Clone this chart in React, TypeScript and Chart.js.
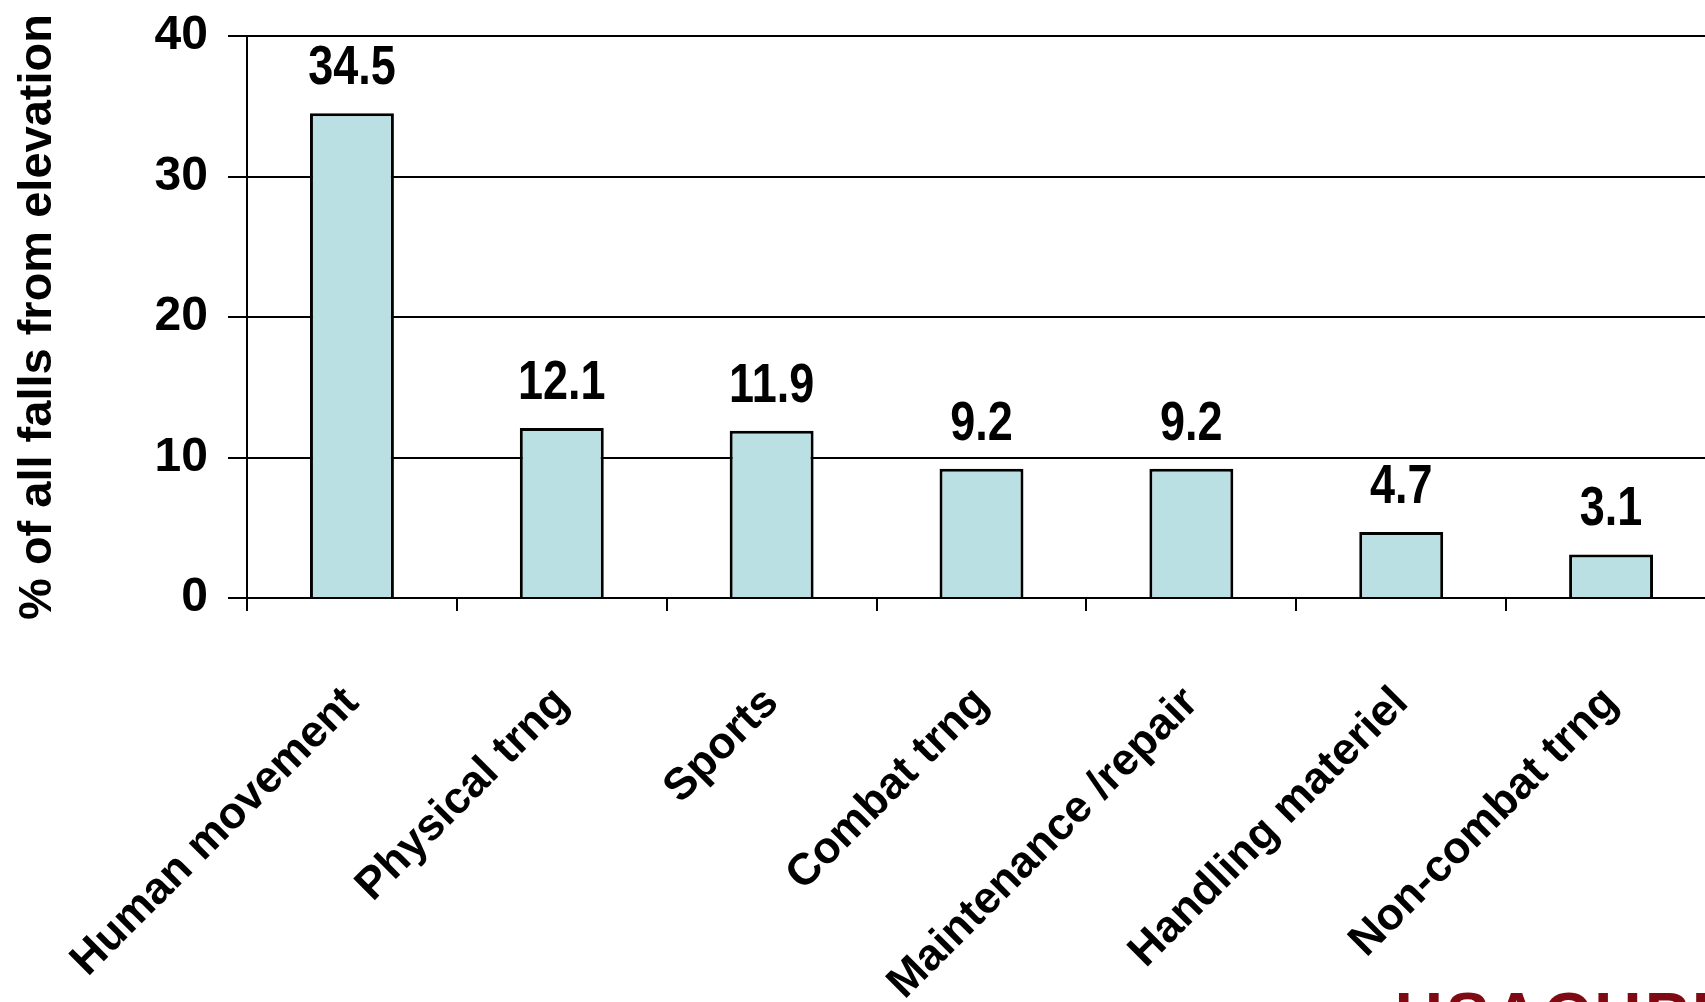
import React, { useEffect, useRef } from "react";
import { Chart, registerables } from "chart.js";

Chart.register(...registerables);

const categories = [
  "Human movement",
  "Physical trng",
  "Sports",
  "Combat trng",
  "Maintenance /repair",
  "Handling materiel",
  "Non-combat trng",
];
const percentValues = [34.5, 12.1, 11.9, 9.2, 9.2, 4.7, 3.1];
const yTicks = [0, 10, 20, 30, 40];
const yAxisTitle = "% of all falls from elevation";
const logoText = "USACHPPM";

const FONT = "'Liberation Sans', Arial, Helvetica, sans-serif";

const valueLabelPlugin = {
  id: "valueLabels",
  afterDatasetsDraw(chart: any) {
    const ctx = chart.ctx;
    const meta = chart.getDatasetMeta(0);
    meta.data.forEach((bar: any, i: number) => {
      const v = chart.data.datasets[0].data[i];
      ctx.save();
      ctx.translate(bar.x, bar.y - 29);
      ctx.scale(1, 1.22);
      ctx.font = `bold 45px ${FONT}`;
      ctx.fillStyle = "#000";
      ctx.textAlign = "center";
      ctx.textBaseline = "alphabetic";
      ctx.fillText(Number(v).toFixed(1), 0, 0);
      ctx.restore();
    });
  },
};

export default function App() {
  const ref = useRef<HTMLCanvasElement | null>(null);

  useEffect(() => {
    if (!ref.current) return;
    const chart = new Chart(ref.current, {
      type: "bar",
      data: {
        labels: categories,
        datasets: [
          {
            data: percentValues,
            backgroundColor: "#BAE0E3",
            borderColor: "#000",
            borderWidth: 3,
            barPercentage: 0.4,
            categoryPercentage: 1,
          },
        ],
      },
      options: {
        responsive: false,
        animation: false,
        devicePixelRatio: 1,
        layout: { padding: { top: 36, right: 4, left: 0, bottom: 0 } },
        plugins: {
          legend: { display: false },
          tooltip: { enabled: false },
        },
        scales: {
          x: {
            afterFit: (scale: any) => {
              scale.height = 404;
              scale.paddingLeft = 0;
              scale.paddingRight = 0;
            },
            grid: {
              offset: true,
              drawOnChartArea: false,
              drawTicks: true,
              tickLength: 13,
              color: "#000",
              lineWidth: 2,
            },
            border: { display: true, color: "#000", width: 2 },
            ticks: {
              autoSkip: false,
              maxRotation: 45,
              minRotation: 45,
              color: "#000",
              padding: 66,
              font: { family: FONT, size: 44.5, weight: "bold" },
            },
          },
          y: {
            min: 0,
            max: 40,
            afterFit: (scale: any) => {
              scale.width = 247;
              scale.paddingTop = 0;
              scale.paddingBottom = 0;
            },
            afterBuildTicks: (scale: any) => {
              scale.ticks = yTicks.map((v) => ({ value: v }));
            },
            grid: {
              color: "#000",
              lineWidth: 2,
              drawTicks: true,
              tickLength: 19,
            },
            border: { display: true, color: "#000", width: 2 },
            ticks: {
              color: "#000",
              padding: 20,
              font: { family: FONT, size: 48, weight: "bold" },
            },
            title: {
              display: true,
              text: yAxisTitle,
              color: "#000",
              padding: { top: 10, bottom: 0 },
              font: { family: FONT, size: 47, weight: "bold" },
            },
          },
        },
      },
      plugins: [valueLabelPlugin],
    });
    return () => chart.destroy();
  }, []);

  return (
    <div
      style={{
        position: "fixed",
        left: 0,
        top: 0,
        width: 1705,
        height: 1002,
        overflow: "hidden",
        background: "#fff",
      }}
    >
      <canvas ref={ref} width={1720} height={1002} style={{ display: "block" }} />
      <div
        style={{
          position: "absolute",
          left: 1395,
          top: 983,
          fontFamily: FONT,
          fontWeight: "bold",
          fontSize: 66,
          lineHeight: "66px",
          color: "#7F0A14",
          letterSpacing: 3,
          whiteSpace: "nowrap",
        }}
      >
        {logoText}
      </div>
    </div>
  );
}
